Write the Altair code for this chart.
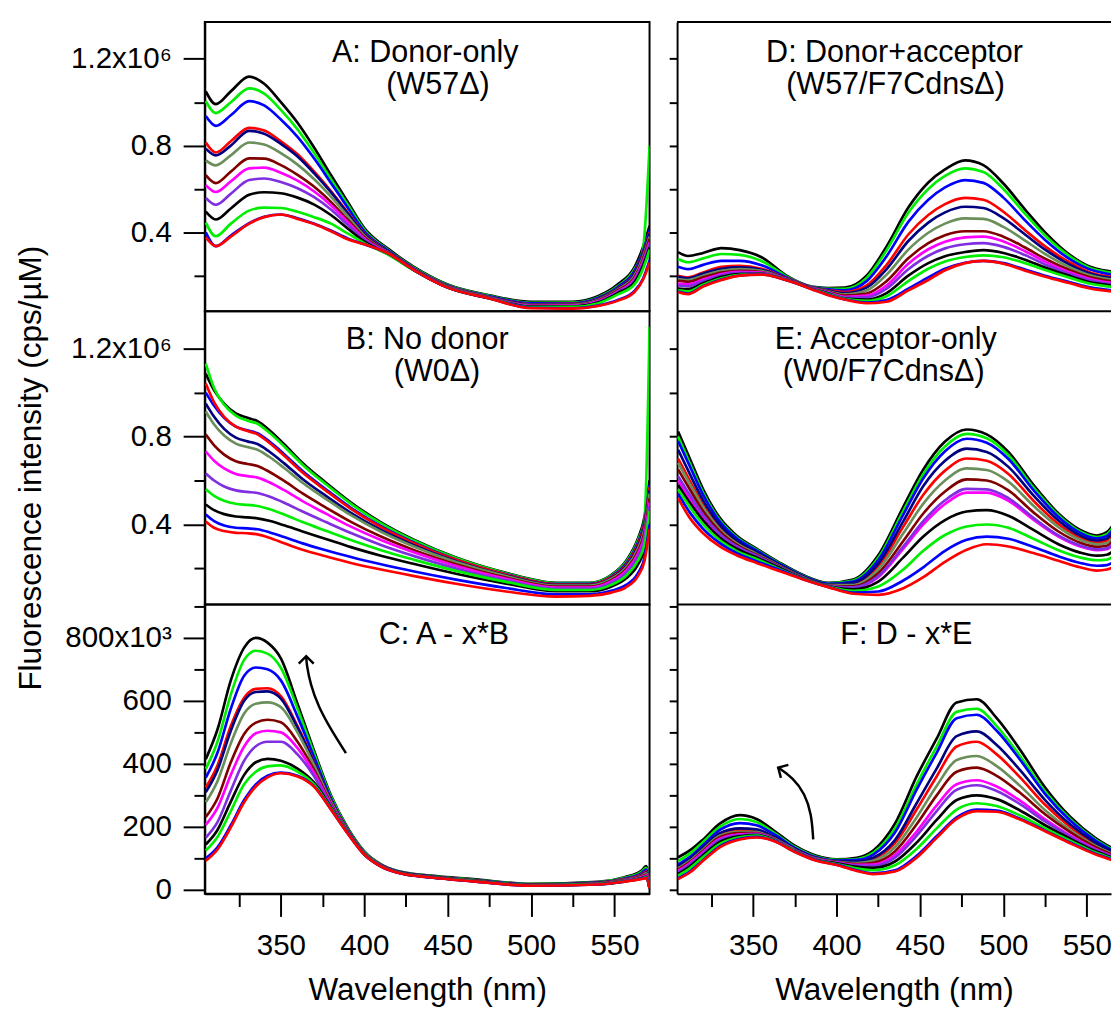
import altair as alt
import pandas as pd

FONT = "Liberation Sans"
FS = 30

SERIES = ["c%02d" % i for i in range(13)]
SERIES_COLORS = ["#000000", "#00ee00", "#0000ff", "#ff0000", "#000080", "#6b8f5b",
                 "#800000", "#ff00ff", "#7f2fdf", "#000000", "#00ee00", "#0000ff", "#ff0000"]

# ---------------- Panel A: Donor-only (units: 10^3 cps/uM)
A_WL = [305, 311, 320, 331, 340, 350, 360, 370, 380, 390, 400, 415, 430, 450, 475, 500, 525, 540, 552, 562, 567, 571]
A_Y = [
    [1050, 991, 1050, 1118, 1085, 1000, 905, 790, 664, 541, 420, 320, 240, 160, 110, 80, 80, 105, 160, 240, 330, 430],
    [1005, 950, 1000, 1064, 1040, 965, 875, 765, 645, 528, 412, 315, 236, 157, 107, 75, 76, 100, 152, 230, 320, 800],
    [936, 891, 940, 1005, 985, 920, 840, 740, 628, 515, 405, 312, 233, 155, 105, 72, 73, 97, 148, 222, 310, 410],
    [814, 768, 820, 882, 870, 820, 760, 680, 590, 492, 395, 308, 230, 152, 102, 68, 70, 93, 142, 212, 300, 400],
    [786, 755, 800, 868, 855, 808, 750, 672, 585, 488, 392, 306, 229, 151, 101, 67, 68, 91, 140, 208, 295, 395],
    [732, 709, 755, 814, 805, 765, 712, 645, 565, 475, 385, 304, 228, 150, 100, 65, 66, 88, 136, 200, 285, 380],
    [664, 627, 680, 741, 740, 710, 665, 610, 540, 458, 378, 302, 227, 149, 99, 63, 64, 85, 132, 192, 275, 370],
    [618, 586, 635, 695, 698, 675, 638, 588, 525, 448, 372, 300, 226, 148, 98, 61, 62, 82, 128, 185, 265, 355],
    [559, 527, 578, 641, 648, 632, 603, 562, 505, 435, 366, 298, 225, 147, 97, 59, 60, 79, 124, 178, 255, 345],
    [495, 459, 510, 573, 585, 580, 560, 528, 480, 418, 358, 296, 224, 146, 96, 57, 58, 76, 120, 170, 245, 330],
    [445, 382, 440, 500, 514, 512, 495, 470, 440, 395, 350, 294, 223, 146, 96, 55, 56, 72, 114, 160, 230, 320],
    [400, 336, 385, 442, 472, 482, 465, 440, 408, 372, 345, 300, 225, 145, 95, 52, 50, 62, 88, 130, 185, 270],
    [377, 336, 380, 440, 470, 482, 462, 438, 405, 368, 345, 300, 225, 145, 95, 50, 48, 60, 85, 125, 180, 260],
]

# ---------------- Panel B: No donor
B_WL = [305, 310, 316, 323, 330, 336, 343, 352, 363, 377, 392, 410, 430, 455, 485, 515, 535, 548, 557, 564, 568, 571]
B_Y = [
    [1086, 1010, 950, 905, 885, 870, 830, 765, 680, 590, 500, 410, 330, 250, 180, 135, 135, 170, 235, 335, 435, 600],
    [1132, 1020, 945, 895, 872, 858, 818, 755, 672, 583, 494, 405, 326, 247, 178, 133, 133, 167, 230, 327, 425, 1300],
    [1000, 940, 885, 845, 828, 815, 778, 720, 643, 560, 476, 392, 317, 241, 174, 130, 130, 163, 223, 317, 413, 580],
    [1041, 955, 890, 845, 825, 810, 772, 713, 636, 554, 471, 388, 314, 239, 172, 128, 128, 160, 218, 310, 405, 570],
    [950, 890, 835, 795, 778, 766, 732, 678, 607, 530, 453, 375, 305, 233, 168, 125, 125, 156, 212, 300, 393, 555],
    [914, 855, 805, 768, 752, 740, 708, 657, 590, 516, 442, 367, 299, 229, 165, 122, 122, 152, 205, 290, 380, 540],
    [809, 760, 718, 688, 675, 666, 640, 598, 541, 477, 412, 345, 283, 219, 158, 117, 117, 146, 197, 277, 365, 520],
    [732, 690, 655, 630, 620, 613, 592, 556, 506, 449, 390, 329, 272, 211, 153, 113, 113, 141, 190, 267, 350, 500],
    [632, 600, 573, 555, 548, 543, 527, 499, 459, 411, 361, 307, 256, 200, 146, 108, 108, 134, 180, 253, 330, 480],
    [491, 465, 447, 436, 432, 428, 417, 396, 368, 334, 297, 258, 220, 176, 131, 96, 96, 117, 155, 217, 290, 440],
    [560, 530, 508, 494, 489, 484, 470, 445, 411, 371, 329, 283, 239, 189, 139, 102, 102, 125, 167, 235, 310, 460],
    [445, 415, 395, 385, 382, 378, 365, 343, 314, 283, 252, 219, 186, 149, 111, 82, 82, 98, 125, 177, 250, 400],
    [414, 385, 370, 362, 360, 355, 340, 315, 285, 255, 225, 195, 165, 130, 95, 72, 75, 90, 115, 165, 235, 380],
]

# ---------------- Panel C: A - x*B
C_WL = [305, 312, 320, 328, 335, 342, 350, 360, 370, 380, 390, 400, 410, 420, 440, 465, 500, 540, 556, 566, 569, 571]
C_Y = [
    [415, 509, 665, 769, 800, 785, 735, 590, 440, 300, 197, 122, 81, 60, 45, 34, 19, 25, 40, 60, 75, 20],
    [384, 470, 620, 730, 759, 750, 705, 575, 432, 296, 195, 121, 80, 59, 44, 32, 18, 24, 38, 56, 70, 15],
    [356, 435, 575, 680, 706, 700, 665, 550, 420, 290, 192, 119, 79, 58, 43, 31, 17, 23, 36, 52, 64, 12],
    [325, 395, 520, 610, 638, 640, 615, 520, 405, 283, 189, 117, 78, 57, 42, 30, 16, 22, 34, 48, 58, 10],
    [310, 380, 505, 600, 628, 630, 607, 515, 402, 282, 188, 117, 78, 57, 42, 30, 16, 22, 33, 46, 55, 10],
    [278, 345, 465, 560, 591, 595, 580, 500, 395, 279, 187, 116, 77, 56, 41, 29, 15, 21, 32, 44, 52, 8],
    [231, 290, 405, 495, 531, 540, 532, 470, 380, 274, 185, 115, 76, 56, 41, 29, 15, 20, 30, 42, 48, 8],
    [206, 260, 365, 455, 497, 505, 500, 450, 370, 270, 184, 114, 76, 55, 40, 28, 14, 19, 29, 40, 45, 6],
    [166, 215, 315, 410, 456, 470, 470, 430, 360, 266, 183, 114, 75, 55, 40, 28, 14, 18, 28, 38, 42, 5],
    [144, 190, 280, 365, 405, 416, 410, 385, 340, 262, 182, 113, 75, 55, 40, 28, 14, 18, 27, 37, 41, 5],
    [125, 168, 250, 335, 375, 392, 395, 375, 334, 259, 181, 113, 75, 55, 40, 28, 14, 18, 27, 36, 40, 5],
    [100, 135, 205, 285, 335, 362, 372, 362, 328, 256, 180, 112, 74, 54, 39, 27, 13, 17, 26, 35, 38, 4],
    [92, 128, 198, 278, 328, 357, 370, 360, 327, 255, 179, 112, 74, 54, 39, 27, 13, 17, 26, 34, 37, 4],
]

# ---------------- Panel D: Donor+acceptor
D_WL = [305, 311, 320, 331, 342, 355, 370, 385, 395, 405, 418, 430, 443, 455, 465, 477, 488, 500, 513, 525, 540, 552, 560, 566]
D_Y = [
    [309, 291, 305, 327, 318, 285, 200, 150, 143, 145, 200, 335, 514, 630, 690, 732, 710, 625, 505, 400, 295, 241, 225, 218],
    [277, 262, 280, 300, 296, 268, 197, 149, 140, 140, 190, 318, 490, 600, 660, 695, 678, 600, 485, 385, 288, 236, 220, 212],
    [241, 230, 250, 268, 268, 248, 193, 148, 137, 133, 175, 290, 448, 550, 607, 641, 628, 560, 455, 365, 275, 228, 212, 204],
    [200, 192, 215, 241, 245, 232, 189, 147, 133, 125, 155, 250, 390, 480, 530, 559, 550, 495, 410, 335, 260, 215, 200, 193],
    [195, 188, 210, 232, 238, 227, 187, 146, 131, 120, 145, 230, 360, 445, 492, 518, 512, 465, 390, 320, 250, 210, 195, 188],
    [185, 180, 200, 222, 230, 222, 185, 145, 128, 114, 132, 205, 320, 398, 440, 464, 462, 425, 362, 300, 238, 202, 188, 181],
    [177, 172, 193, 215, 223, 217, 184, 144, 126, 108, 118, 175, 280, 350, 387, 405, 405, 380, 330, 278, 225, 193, 180, 173],
    [162, 160, 182, 208, 218, 214, 183, 143, 123, 103, 108, 155, 255, 322, 357, 377, 380, 358, 313, 265, 215, 185, 172, 166],
    [155, 152, 175, 202, 213, 211, 182, 142, 121, 99, 100, 140, 230, 292, 326, 345, 350, 333, 295, 252, 207, 178, 166, 160],
    [141, 138, 165, 195, 208, 209, 181, 141, 118, 95, 90, 120, 200, 258, 290, 309, 318, 305, 274, 238, 198, 170, 160, 154],
    [132, 128, 158, 188, 204, 207, 180, 140, 116, 93, 84, 105, 175, 232, 265, 286, 294, 285, 258, 226, 190, 163, 153, 148],
    [127, 118, 152, 182, 201, 206, 179, 139, 112, 91, 76, 88, 140, 192, 232, 260, 268, 258, 228, 200, 170, 146, 137, 131],
    [125, 115, 150, 180, 200, 205, 179, 138, 110, 90, 73, 80, 132, 180, 225, 258, 268, 255, 223, 195, 165, 141, 132, 127],
]

# ---------------- Panel E: Acceptor-only
E_WL = [305, 312, 320, 330, 340, 352, 365, 380, 395, 410, 425, 440, 452, 465, 478, 490, 503, 518, 533, 546, 556, 562, 566]
E_Y = [
    [823, 700, 560, 430, 350, 290, 230, 170, 135, 150, 260, 480, 650, 777, 832, 810, 730, 580, 450, 375, 350, 365, 400],
    [800, 680, 545, 420, 343, 285, 226, 167, 132, 145, 248, 462, 630, 755, 812, 792, 715, 568, 442, 368, 343, 356, 390],
    [780, 665, 535, 413, 338, 282, 224, 165, 130, 140, 238, 445, 610, 733, 790, 772, 698, 556, 434, 362, 337, 348, 380],
    [700, 600, 490, 385, 320, 270, 218, 161, 126, 130, 210, 390, 535, 645, 700, 690, 630, 508, 402, 340, 318, 326, 355],
    [740, 630, 510, 398, 328, 275, 221, 163, 128, 135, 222, 415, 575, 690, 745, 730, 662, 532, 418, 350, 327, 336, 366],
    [680, 585, 478, 378, 315, 266, 215, 159, 124, 124, 195, 360, 495, 600, 655, 648, 595, 485, 388, 330, 310, 316, 343],
    [650, 560, 460, 368, 308, 262, 212, 157, 122, 118, 178, 325, 450, 550, 605, 600, 555, 455, 368, 317, 298, 303, 328],
    [600, 520, 432, 350, 297, 255, 208, 155, 120, 112, 160, 290, 400, 493, 545, 545, 508, 422, 345, 300, 283, 287, 310],
    [620, 535, 443, 357, 301, 258, 209, 156, 121, 114, 165, 300, 415, 510, 562, 560, 520, 430, 350, 304, 287, 291, 315],
    [580, 500, 418, 340, 290, 250, 205, 154, 119, 105, 140, 250, 345, 420, 459, 465, 440, 375, 310, 272, 258, 262, 280],
    [560, 480, 400, 328, 280, 243, 200, 153, 118, 98, 118, 195, 280, 352, 391, 400, 385, 335, 283, 250, 237, 240, 255],
    [540, 455, 380, 315, 270, 233, 196, 151, 116, 90, 95, 145, 205, 280, 330, 345, 335, 298, 255, 225, 212, 215, 228],
    [520, 430, 360, 300, 260, 225, 190, 150, 115, 85, 80, 110, 160, 230, 285, 310, 300, 270, 235, 205, 190, 195, 205],
]

# ---------------- Panel F: D - x*E
F_WL = [305, 312, 320, 330, 342, 352, 362, 375, 388, 400, 412, 422, 435, 448, 460, 472, 484, 496, 510, 525, 540, 555, 566]
F_Y = [
    [103, 125, 160, 210, 237, 225, 190, 140, 108, 97, 102, 125, 210, 360, 480, 595, 605, 545, 445, 325, 232, 165, 130],
    [91, 115, 152, 200, 225, 215, 183, 136, 105, 95, 98, 118, 195, 335, 455, 565, 575, 520, 425, 312, 225, 160, 126],
    [80, 104, 142, 190, 212, 205, 178, 133, 103, 93, 95, 112, 182, 318, 435, 545, 556, 505, 413, 304, 220, 157, 123],
    [72, 96, 133, 178, 191, 188, 167, 128, 100, 90, 88, 98, 148, 255, 360, 455, 470, 430, 357, 270, 200, 146, 117],
    [75, 98, 135, 180, 195, 192, 170, 130, 101, 91, 90, 102, 158, 275, 385, 488, 503, 460, 380, 285, 208, 150, 120],
    [68, 92, 128, 172, 184, 183, 165, 127, 99, 89, 85, 92, 135, 230, 330, 412, 425, 393, 330, 253, 190, 140, 113],
    [64, 88, 124, 167, 180, 180, 163, 126, 98, 88, 82, 86, 122, 208, 300, 375, 388, 362, 308, 240, 183, 136, 110],
    [60, 84, 120, 162, 176, 178, 162, 125, 97, 87, 79, 80, 110, 185, 268, 335, 348, 328, 283, 224, 173, 130, 106],
    [56, 80, 116, 158, 173, 176, 161, 124, 96, 86, 77, 76, 102, 172, 250, 318, 332, 314, 272, 217, 169, 127, 104],
    [50, 74, 110, 152, 170, 174, 160, 123, 95, 84, 73, 70, 90, 150, 222, 285, 300, 288, 252, 205, 162, 123, 101],
    [45, 68, 104, 146, 167, 172, 159, 122, 94, 82, 68, 62, 78, 130, 195, 255, 275, 266, 236, 195, 156, 119, 98],
    [36, 58, 94, 138, 162, 168, 157, 121, 93, 80, 62, 52, 62, 108, 170, 230, 255, 252, 226, 188, 150, 115, 95],
    [34, 55, 92, 135, 160, 166, 156, 120, 92, 79, 60, 50, 58, 102, 165, 225, 250, 248, 223, 186, 148, 113, 93],
]

# arrows (wavelength nm, value 10^3)
C_ARROW_WL = [389, 380, 372.5, 367.7, 365.4, 365.2]
C_ARROW_V = [434, 509, 581, 653, 716, 742]
F_ARROW_WL = [386, 385, 381, 374, 365]
F_ARROW_V = [160, 240, 305, 355, 388]

X_TICKS = [325, 350, 375, 400, 425, 450, 475, 500, 525, 550]
Y_TICKS_TOP = [200, 400, 600, 800, 1000, 1200]
Y_TICKS_C = [0, 100, 200, 300, 400, 500, 600, 700, 800, 900]

LEFT_W, RIGHT_W = 452, 441
PX_PER_NM = LEFT_W / (571 - 304.4)
X_LEFT = [304.4, 571]
X_RIGHT = [304.4, 304.4 + RIGHT_W / PX_PER_NM]
Y_TOP = [36, 1370]
Y_C = [-12.5, 906]


def long_df(wl, rows):
    recs = []
    for s, row in enumerate(rows):
        assert len(row) == len(wl), (len(row), len(wl))
        for w, v in zip(wl, row):
            recs.append({"s": SERIES[s], "wl": w, "v": v})
    return pd.DataFrame(recs)


def x_axis_bottom():
    return alt.Axis(values=X_TICKS,
                    tickSize={"condition": {"test": "datum.value % 50 == 0", "value": 23}, "value": 13},
                    labelExpr="datum.value % 50 == 0 ? datum.label : ''",
                    labelPadding=15, title="Wavelength (nm)", titlePadding=14,
                    titleFontSize=32)


def left_y_axis(kind, title=None):
    if kind == "top":
        vals = Y_TICKS_TOP
        test = "datum.value % 400 == 0"
        expr = ("datum.value == 1200 ? '1.2x10\u2076' : datum.value == 800 ? '0.8' : "
                "datum.value == 400 ? '0.4' : ''")
    else:
        vals = Y_TICKS_C
        test = "datum.value % 200 == 0"
        expr = ("datum.value == 800 ? '800x10\u00b3' : datum.value % 200 == 0 ? "
                "format(datum.value, 'd') : ''")
    kw = dict(values=vals,
              tickSize={"condition": {"test": test, "value": 22}, "value": 11},
              labelExpr=expr, labelPadding=12)
    if title:
        kw.update(title=title, titleX=-177, titleY=159, titleAngle=270,
                  titleBaseline="middle", titleAlign="center", titleFontSize=32)
    else:
        kw.update(title=None)
    return alt.Axis(**kw)


def right_y_axis(kind):
    vals = Y_TICKS_TOP if kind == "top" else Y_TICKS_C
    return alt.Axis(values=vals, tickSize=8, labels=False, title=None)


def panel(wl, rows, width, height, xdom, ydom, xaxis, yaxis, texts, left,
          arrow=None, head_angle=0):
    xs = alt.Scale(domain=xdom, nice=False, zero=False)
    ys = alt.Scale(domain=ydom, nice=False, zero=False)
    X = alt.X("wl:Q", scale=xs, axis=xaxis)
    Y = alt.Y("v:Q", scale=ys, axis=yaxis)
    layers = [alt.Chart(long_df(wl, rows)).mark_line(
        strokeWidth=2.7, clip=True, interpolate="monotone").encode(
        x=X, y=Y,
        color=alt.Color("s:N", scale=alt.Scale(domain=SERIES, range=SERIES_COLORS), legend=None),
    )]
    for t, tx, ty in texts:
        layers.append(alt.Chart(pd.DataFrame({"t": [t]})).mark_text(
            font=FONT, fontSize=31, align="center", baseline="alphabetic", color="black"
        ).encode(text="t:N", x=alt.value(tx), y=alt.value(ty)))
    if arrow is not None:
        aw, av = arrow
        adf = pd.DataFrame({"wl": aw, "v": av, "k": list(range(len(aw)))})
        layers.append(alt.Chart(adf).mark_line(color="black", strokeWidth=2.5, interpolate="basis").encode(
            x=X, y=Y, order="k:Q"))
        hdf = pd.DataFrame({"wl": [aw[-1]], "v": [av[-1]]})
        layers.append(alt.Chart(hdf).mark_point(
            shape="M-1,1L0,0L1,1", filled=False, stroke="black", strokeWidth=2.5,
            size=230, angle=head_angle, opacity=1).encode(x=X, y=Y))
    if not left:
        layers.append(alt.Chart(pd.DataFrame({"a": [0]})).mark_rule(color="black", strokeWidth=2).encode(
            x=alt.value(0), x2=alt.value(width), y=alt.value(0)))
    ch = alt.layer(*layers).properties(width=width, height=height)
    if left:
        ch = ch.properties(view=alt.ViewBackground(stroke="black", strokeWidth=2))
    return ch


pA = panel(A_WL, A_Y, LEFT_W, 294, X_LEFT, Y_TOP, None, left_y_axis("top"),
           [("A: Donor-only", 224, 41), ("(W57\u0394)", 237, 73)], True)
pD = panel(D_WL, D_Y, RIGHT_W, 294, X_RIGHT, Y_TOP, None, right_y_axis("top"),
           [("D: Donor+acceptor", 221, 41), ("(W57/F7Cdns\u0394)", 222, 73)], False)
pB = panel(B_WL, B_Y, LEFT_W, 298, X_LEFT, Y_TOP, None,
           left_y_axis("top", title="Fluorescence intensity (cps/\u00b5M)"),
           [("B: No donor", 226, 38), ("(W0\u0394)", 236, 71)], True)
pE = panel(E_WL, E_Y, RIGHT_W, 298, X_RIGHT, Y_TOP, None, right_y_axis("top"),
           [("E: Acceptor-only", 212, 38), ("(W0/F7Cdns\u0394)", 210, 71)], False)
pC = panel(C_WL, C_Y, LEFT_W, 294, X_LEFT, Y_C, x_axis_bottom(), left_y_axis("c"),
           [("C: A - x*B", 243, 40)], True, arrow=(C_ARROW_WL, C_ARROW_V), head_angle=0)
pF = panel(F_WL, F_Y, RIGHT_W, 294, X_RIGHT, Y_C, x_axis_bottom(), right_y_axis("c"),
           [("F: D - x*E", 233, 40)], False, arrow=(F_ARROW_WL, F_ARROW_V), head_angle=300)

chart = alt.concat(pA, pD, pB, pE, pC, pF, columns=2, bounds="flush", align="each",
                   spacing={"row": 0, "column": 28}).properties(
    padding={"left": 6, "top": 5, "right": 0, "bottom": 0}
).configure_view(stroke=None).configure_axis(
    grid=False, domainColor="black", domainWidth=2, tickColor="black", tickWidth=2,
    labelFont=FONT, labelFontSize=FS, labelColor="black",
    titleFont=FONT, titleFontSize=FS, titleFontWeight="normal", titleColor="black",
)

chart.save("out.html", embed_options={"renderer": "svg", "actions": False})
